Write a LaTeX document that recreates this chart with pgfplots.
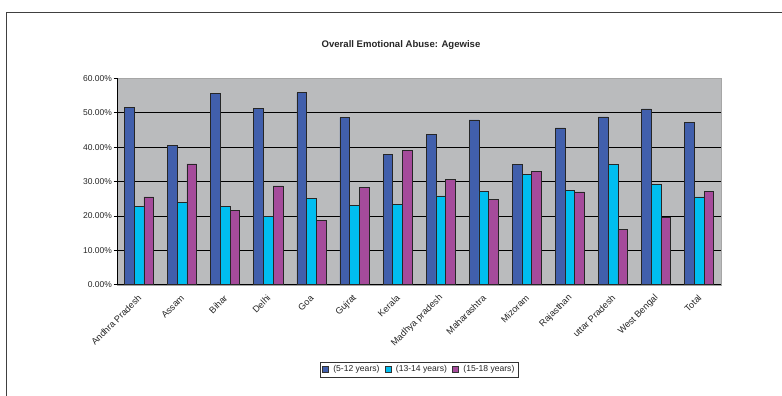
\documentclass[border=0pt]{standalone}
\usepackage{pgfplots}
\pgfplotsset{compat=1.18}
\usepackage{pgfplotstable}
\usepackage{fontspec}
\setmainfont{Liberation Sans}
\definecolor{cblue}{RGB}{65,95,172}
\definecolor{ccyan}{RGB}{0,190,240}
\definecolor{cpurple}{RGB}{165,75,155}
\definecolor{cback}{RGB}{186,187,189}
\pgfplotstableread{
x a b c
0 51.5 22.8 25.5
1 40.6 23.9 35.1
2 55.6 22.8 21.7
3 51.3 19.8 28.7
4 55.8 25.2 18.6
5 48.6 23.0 28.3
6 37.9 23.3 39.0
7 43.6 25.8 30.7
8 47.9 27.2 24.8
9 34.9 32.0 32.9
10 45.6 27.5 27.0
11 48.8 34.9 16.0
12 51.1 29.2 19.5
13 47.2 25.5 27.2
}\datatable
\begin{document}
\begin{tikzpicture}
\path[use as bounding box] (0,0) rectangle (782bp,-396bp);
\draw[line width=1.4bp, black!75] (6.7bp,-396bp) -- (6.7bp,-12.7bp) -- (782bp,-12.7bp);
\node[font=\bfseries\fontsize{9.6}{11}\selectfont, text=black!85] at (401bp,-45bp) {Overall Emotional Abuse: Agewise};
\begin{axis}[
  at={(117.5bp,-284.7bp)}, anchor=south west,
  scale only axis, width=603.2bp, height=206.4bp,
  ybar=0pt, bar width=0.225,
  xmin=-0.5, xmax=13.5, ymin=0, ymax=60,
  axis x line*=bottom, axis y line*=left,
  axis line style={black, line width=0.8bp},
  axis background/.style={fill=cback, draw=gray!70},
  tick align=outside,
  xtick={0,...,13},
  xticklabels={Andhra Pradesh,Assam,Bihar,Delhi,Goa,Gujrat,Kerala,Madhya pradesh,Maharashtra,Mizoram,Rajasthan,uttar Pradesh,West Bengal,Total},
  major x tick style={draw=none},
  extra x ticks={-0.5,0.5,...,13.5},
  extra x tick labels={},
  extra x tick style={major tick length=4bp, tick style={black, line width=0.6bp, draw=black}, grid=none},
  xticklabel style={rotate=45, anchor=east, font=\fontsize{9.2}{10}\selectfont, text=black!85, inner sep=1bp, xshift=-4bp, yshift=-6bp},
  ytick={0,10,...,50},
  yticklabels={0.00\%,10.00\%,20.00\%,30.00\%,40.00\%,50.00\%},
  extra y ticks={60}, extra y tick labels={60.00\%},
  extra y tick style={grid=none},
  yticklabel style={font=\fontsize{8.5}{10}\selectfont, text=black!85, inner sep=1.5bp},
  major tick length=4bp,
  y tick style={black, line width=0.6bp},
  ymajorgrids, grid style={black, line width=0.8bp},
  every axis plot/.append style={draw=black!85, line width=0.6bp},
  legend style={at={(0.5,-0.411)}, anchor=center, legend columns=3, draw=black!80, line width=0.6bp,
    font=\fontsize{8.6}{10}\selectfont, text=black!85, inner sep=1.5bp,
    /tikz/every odd column/.append style={column sep=2.5bp},
    /tikz/every even column/.append style={column sep=3bp}},
  legend image code/.code={\draw[#1, draw=black!80, line width=0.5bp] (0bp,-3bp) rectangle (6.5bp,3.5bp);},
]
\addplot[fill=cblue] table[x=x,y=a]{\datatable};
\addplot[fill=ccyan] table[x=x,y=b]{\datatable};
\addplot[fill=cpurple] table[x=x,y=c]{\datatable};
\legend{(5-12 years),(13-14 years),(15-18 years)}
\end{axis}
\end{tikzpicture}
\end{document}
